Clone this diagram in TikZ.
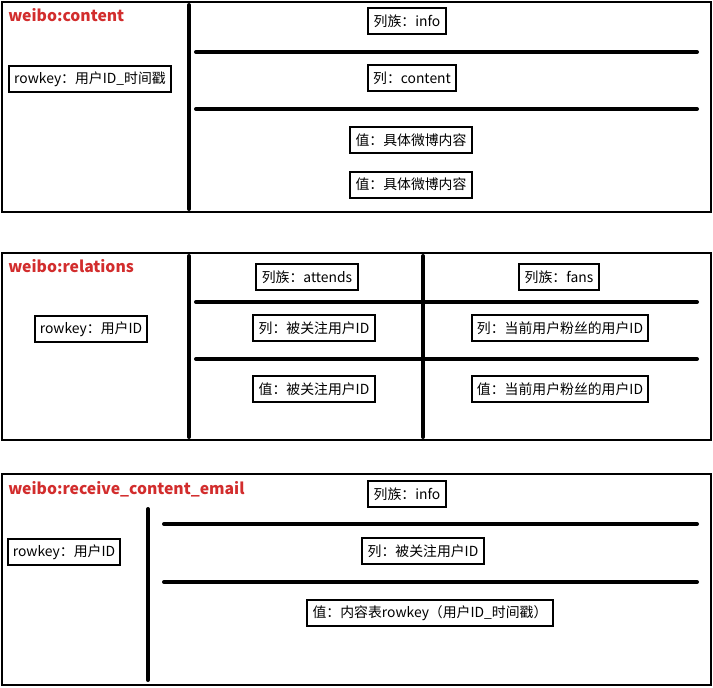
\documentclass[tikz,border=0pt]{standalone}
\usepackage{fontspec}
\setmainfont{Noto Sans CJK SC}
\usepackage{tikz}
\usetikzlibrary{positioning}
\definecolor{titlered}{RGB}{210,45,45}

\begin{document}
\begin{tikzpicture}[x=0.75pt, y=-0.75pt,
    field/.style={draw, line width=1.5pt, minimum height=19.5pt, inner xsep=4pt, inner ysep=2pt, font=\fontsize{10.4}{12}\selectfont},
    tname/.style={anchor=west, text=titlered, inner sep=0pt, font=\fontsize{11.8}{14}\selectfont\bfseries},
    frame/.style={draw, line width=1.5pt},
    divider/.style={line width=3pt, line cap=round}]
        \useasboundingbox (0,0) rectangle (713,687);

        % weibo:content
        \draw[frame] (2,2) rectangle (711,212);
        \node[tname] (t1) at (8,15) {weibo:content};
        \draw[divider] (189,5) -- (189,209);
        \draw[divider] (196,52) -- (697,52);
        \draw[divider] (196,109) -- (697,109);
        \node[field] (rk1) at (90,79) {rowkey：用户ID\_时间戳};
        \node[field] (cf1) at (407,21) {列族：info};
        \node[field] (col1) at (412,78) {列：content};
        \node[field] (v1) at (411,140) {值：具体微博内容};
        \node[field, below=12.5pt of v1] (v2) {值：具体微博内容};

        % weibo:relations
        \draw[frame] (2,253) rectangle (711,440);
        \node[tname] (t2) at (8,266) {weibo:relations};
        \draw[divider] (189,256) -- (189,437);
        \draw[divider] (423,256) -- (423,437);
        \draw[divider] (196,302) -- (697,302);
        \draw[divider] (196,359) -- (697,359);
        \node[field] (rk2) at (91,329) {rowkey：用户ID};
        \node[field] (cf2) at (307,277) {列族：attends};
        \node[field] (col2) at (314,328) {列：被关注用户ID};
        \node[field] (v3) at (314,389) {值：被关注用户ID};
        \node[field] (cf3) at (559,277) {列族：fans};
        \node[field] (col3) at (560,328) {列：当前用户粉丝的用户ID};
        \node[field] (v4) at (560,389) {值：当前用户粉丝的用户ID};

        % weibo:receive_content_email
        \draw[frame] (2,474) rectangle (711,685);
        \node[tname] (t3) at (8,489) {weibo:receive\_content\_email};
        \draw[divider] (148,509) -- (148,680);
        \draw[divider] (164,524) -- (697,524);
        \draw[divider] (164,582) -- (697,582);
        \node[field] (rk3) at (64,552) {rowkey：用户ID};
        \node[field] (cf4) at (407,494) {列族：info};
        \node[field] (col4) at (423,551) {列：被关注用户ID};
        \node[field] (v5) at (430,613) {值：内容表rowkey（用户ID\_时间戳）};
    \end{tikzpicture}
\end{document}
